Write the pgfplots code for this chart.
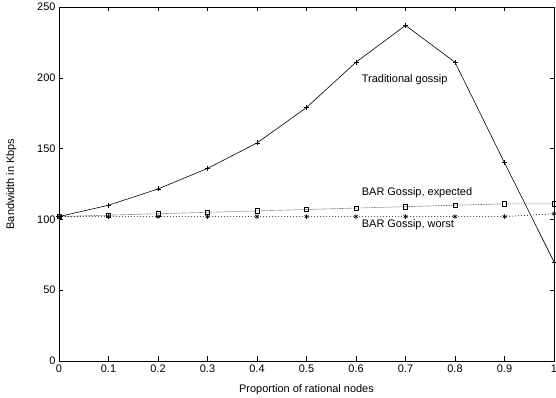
\documentclass[border=0pt]{standalone}
\usepackage{pgfplots}
\pgfplotsset{compat=1.18}
\usepackage{fontspec}
\setmainfont{Liberation Sans}
\begin{document}
\begin{tikzpicture}[x=1bp,y=1bp]
\path[use as bounding box] (-59bp,-37bp) rectangle (497bp,361bp);
\begin{axis}[
  at={(0,0)}, anchor=south west,
  scale only axis, width=495bp, height=354bp,
  xmin=0, xmax=1, ymin=0, ymax=250,
  xtick={0,0.1,...,1.01}, ytick={0,50,...,250},
  xticklabels={0,0.1,0.2,0.3,0.4,0.5,0.6,0.7,0.8,0.9,1},
  tick align=inside, major tick length=4.5bp,
  tick style={black, line width=0.6pt},
  axis line style={line width=0.8pt},
  /pgf/number format/assume math mode=true,
  font=\fontsize{11}{13}\selectfont,
  ticklabel style={font=\fontsize{11}{13}\selectfont},
  label style={font=\fontsize{11}{13}\selectfont},
  xlabel={Proportion of rational nodes},
  ylabel={Bandwidth in Kbps},
  xlabel style={yshift=-5bp},
  ylabel style={yshift=14bp},
  clip=false,
]
\addplot[black, line width=0.6pt, mark=+, mark size=2.5bp, mark options={solid}] coordinates {
(0,102) (0.1,110) (0.2,121.5) (0.3,136) (0.4,154) (0.5,179) (0.6,211) (0.7,237) (0.8,211) (0.9,140) (1.0,70)};
\addplot[black!70, line width=0.6pt, dash pattern=on 0.8bp off 0.8bp, mark=square, mark size=2.2bp, mark options={solid, black, line width=0.6pt}] coordinates {
(0,102) (0.1,103) (0.2,104) (0.3,105) (0.4,106) (0.5,107) (0.6,108) (0.7,109) (0.8,110) (0.9,111) (1.0,111)};
\addplot[black, line width=0.6pt, dash pattern=on 1bp off 2bp, mark=asterisk, mark size=2.2bp, mark options={solid, black, line width=0.6pt}] coordinates {
(0,102) (0.1,102) (0.2,102) (0.3,102) (0.4,102) (0.5,102) (0.6,102) (0.7,102) (0.8,102) (0.9,102) (1.0,104)};
\node[anchor=west, inner sep=0pt] at (axis cs:0.6115,198.4) {Traditional gossip};
\node[anchor=west, inner sep=0pt] at (axis cs:0.6115,118.9) {BAR Gossip, expected};
\node[anchor=west, inner sep=0pt] at (axis cs:0.6115,96) {BAR Gossip, worst};
\end{axis}
\end{tikzpicture}
\end{document}
